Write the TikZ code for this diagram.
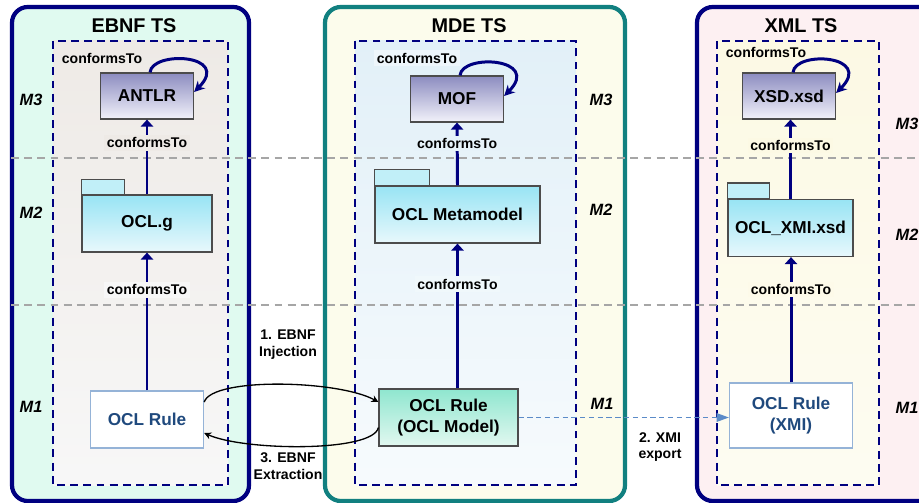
\documentclass[tikz,border=0pt]{standalone}
\usepackage{fontspec}
\setmainfont{Liberation Sans}
\usetikzlibrary{arrows.meta}
\definecolor{navy}{RGB}{0,0,128}
\definecolor{tealb}{RGB}{17,128,128}
\definecolor{rulebl}{RGB}{31,73,125}
\definecolor{rulebd}{RGB}{149,179,215}
\definecolor{xmibl}{RGB}{91,139,200}
\definecolor{ebnfbg}{RGB}{224,250,240}
\definecolor{mdebg}{RGB}{252,252,236}
\definecolor{xmlbg}{RGB}{253,240,242}
\definecolor{ebnfin}{RGB}{238,234,230}
\definecolor{mdein}{RGB}{226,240,248}
\definecolor{xmlin}{RGB}{252,249,228}
\definecolor{metatop}{RGB}{140,140,192}
\definecolor{metabot}{RGB}{242,242,250}
\definecolor{pkgtop}{RGB}{152,228,244}
\definecolor{pkgbot}{RGB}{232,248,252}
\definecolor{modtop}{RGB}{143,230,207}
\definecolor{modbot}{RGB}{226,248,240}
\tikzset{
  tsbox/.style={rounded corners=9pt, line width=2.4pt},
  inbox/.style={draw=navy, line width=1.1pt, dash pattern=on 4.5pt off 3pt},
  gridl/.style={draw=black!35, line width=0.6pt, dash pattern=on 4.5pt off 3pt},
  tstitle/.style={font=\bfseries\fontsize{11.3}{13}\selectfont},
  mlab/.style={font=\bfseries\itshape\fontsize{9.3}{11}\selectfont},
  meta/.style={draw=black!70, line width=0.7pt, top color=metatop, bottom color=metabot,
    minimum width=1.86cm, minimum height=0.92cm, font=\bfseries\fontsize{9.8}{11.5}\selectfont},
  pkg/.style={draw=black!70, line width=0.7pt, top color=pkgtop, bottom color=pkgbot,
    minimum height=1.14cm, font=\bfseries\fontsize{9.8}{11.5}\selectfont},
  pkgtab/.style={draw=black!70, line width=0.7pt, fill=pkgtop!60!white},
  wrule/.style={draw=rulebd, line width=0.8pt, fill=white, text=rulebl, align=center,
    font=\bfseries\fontsize{9.8}{12}\selectfont},
  mrule/.style={draw=black!70, line width=0.7pt, top color=modtop, bottom color=modbot,
    align=center, font=\bfseries\fontsize{9.8}{12}\selectfont},
  conf/.style={draw=navy, line width=1.7pt, -{Triangle[length=4pt,width=7pt]}},
  selfl/.style={draw=navy, line width=1.7pt, -{Stealth[length=6pt,width=6pt]}},
  ctlab/.style={font=\bfseries\fontsize{8}{9.6}\selectfont, inner sep=1.5pt},
  xlab/.style={align=center, font=\bfseries\fontsize{8}{9.6}\selectfont},
  xfer/.style={draw=black, line width=0.75pt, -{Stealth[length=4pt,width=4pt]}},
  xmiexp/.style={draw=xmibl, line width=0.6pt, dash pattern=on 3pt off 2pt,
    -{Triangle[length=7pt,width=5pt]}}
}
\begin{document}
\begin{tikzpicture}[x=0.02cm,y=-0.02cm]
  \useasboundingbox (0,0) rectangle (919,503);
  \clip (0,0) rectangle (919,503);
  \draw[tsbox, draw=navy, fill=ebnfbg] (12,7) rectangle (249,501);
  \draw[tsbox, draw=tealb, fill=mdebg] (325,7) rectangle (625,501);
  \draw[tsbox, draw=navy, fill=xmlbg] (697,7) rectangle (945,501);
  \draw[inbox, top color=ebnfin, bottom color=white!97!black] (53,41) rectangle (228,485);
  \draw[inbox, top color=mdein, bottom color=mdein!30!white] (355,41) rectangle (576,485);
  \draw[inbox, top color=xmlin, bottom color=xmlin!50!white] (717,41) rectangle (879,485);
  \draw[gridl] (11,158) -- (919,158);
  \draw[gridl] (11,305) -- (919,305);

  \node[tstitle] (ebnfts) at (134,26) {EBNF TS};
  \node[tstitle] (mdets) at (469,26) {MDE TS};
  \node[tstitle] (xmlts) at (801,26) {XML TS};

  \node[mlab] (m3a) at (31,100) {M3};
  \node[mlab] (m2a) at (31,213) {M2};
  \node[mlab] (m1a) at (31,407) {M1};
  \node[mlab] (m3b) at (601,100) {M3};
  \node[mlab] (m2b) at (601,210) {M2};
  \node[mlab] (m1b) at (602,404) {M1};
  \node[mlab] (m3c) at (907,124) {M3};
  \node[mlab] (m2c) at (907,235) {M2};
  \node[mlab] (m1c) at (907,408) {M1};

  \node[meta] (antlr) at (147,96) {ANTLR};
  \node[pkg, minimum width=2.6cm] (oclg) at (147,223.5) {OCL.g};
  \draw[pkgtab] (oclg.north west) rectangle ++(43,-15);
  \node[wrule, minimum width=2.26cm, minimum height=1.14cm] (ebnfrule) at (147,419.5) {OCL Rule};

  \node[meta] (mof) at (457,99) {MOF};
  \node[pkg, minimum width=3.3cm] (oclmm) at (457.5,214.5) {OCL Metamodel};
  \draw[pkgtab] (oclmm.north west) rectangle ++(55,-16);
  \node[mrule, minimum width=2.78cm, minimum height=1.14cm] (mderule) at (448.5,417.5) {OCL Rule\\(OCL Model)};

  \node[meta] (xsd) at (789,96) {XSD.xsd};
  \node[pkg, minimum width=2.5cm] (oclxmi) at (790.5,228) {OCL\_XMI.xsd};
  \draw[pkgtab] (oclxmi.north west) rectangle ++(42,-16);
  \node[wrule, minimum width=2.46cm, minimum height=1.3cm] (xmirule) at (791,415.5) {OCL Rule\\(XMI)};

  \draw[conf] (oclg.north) -- node[ctlab, fill=ebnfin, pos=0.69] (ct1) {conformsTo} (antlr.south);
  \draw[conf] (ebnfrule.north) -- node[ctlab, fill=white!97!black, pos=0.73] (ct2) {conformsTo} (oclg.south);
  \draw[conf] (oclmm.north) -- node[ctlab, fill=mdein!85!white, pos=0.67] (ct3) {conformsTo} (mof.south);
  \draw[conf] (mderule.north -| oclmm.south) -- node[ctlab, fill=mdein!50!white, pos=0.72] (ct4) {conformsTo} (oclmm.south);
  \draw[conf] (oclxmi.north) -- node[ctlab, fill=xmlin, pos=0.675] (ct5) {conformsTo} (oclxmi.north |- xsd.south);
  \draw[conf] (xmirule.north) -- node[ctlab, fill=xmlin!80!white, pos=0.74] (ct6) {conformsTo} (xmirule.north |- oclxmi.south);

  \draw[selfl] ([xshift=0.06cm]antlr.north) .. controls +(2,-22) and +(38,-38) .. ([yshift=0.08cm]antlr.east);
  \draw[selfl] ([xshift=0.06cm]mof.north) .. controls +(2,-22) and +(38,-38) .. ([yshift=0.06cm]mof.east);
  \draw[selfl] ([xshift=0.08cm]xsd.north) .. controls +(2,-22) and +(38,-38) .. ([yshift=0.06cm]xsd.east);
  \node[ctlab] (ct7) at (102,58) {conformsTo};
  \node[ctlab, fill=mdein!60!white] (ct8) at (417,58) {conformsTo};
  \node[ctlab] (ct9) at (766,52) {conformsTo};

  \draw[xfer] ([yshift=0.35cm]ebnfrule.east) .. controls +(8,-25) and +(-40,-22) .. ([yshift=0.31cm]mderule.west);
  \draw[xfer] ([yshift=-0.2cm]mderule.west) .. controls +(-5,25) and +(40,18) .. ([yshift=-0.27cm]ebnfrule.east);
  \draw[xmiexp] (mderule.east) -- (mderule.east -| xmirule.west);

  \node[xlab] (inj) at (288,345) {1. EBNF\\Injection};
  \node[xlab] (ext) at (288,466) {3. EBNF\\Extraction};
  \node[xlab] (exp) at (660,447) {2. XMI\\export};
\end{tikzpicture}
\end{document}
